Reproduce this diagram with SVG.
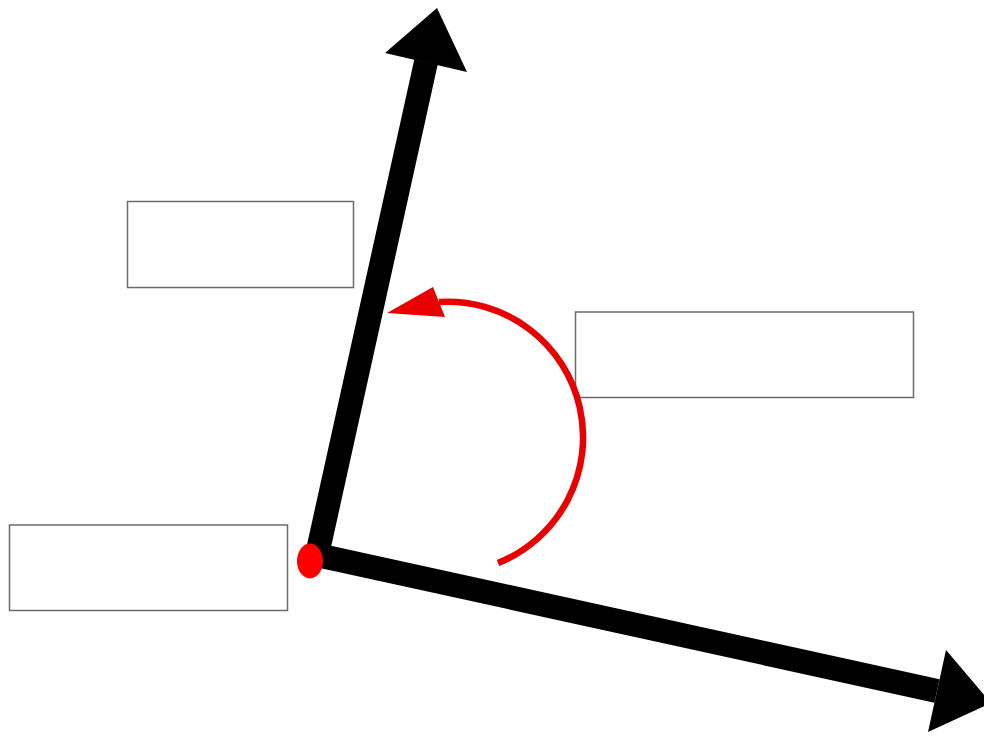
<svg xmlns="http://www.w3.org/2000/svg" width="984" height="737" viewBox="0 0 984 737">
<style>
.box{fill:#fff;stroke:#6b6b6b;stroke-width:1.5}
.axis{fill:none;stroke:#000;stroke-width:24;stroke-linejoin:miter}
.head{fill:#000}
.rot{fill:none;stroke:#e80000;stroke-width:6.5}
</style>
<rect width="984" height="737" fill="#fff"/>
<g id="box1"><rect class="box" x="127.5" y="201.5" width="226" height="86"/></g>
<g id="box2"><rect class="box" x="575.5" y="312" width="338" height="85.5"/></g>
<g id="box3"><rect class="box" x="9.5" y="525" width="278" height="85.5"/></g>
<g id="connectors">
<path class="axis" d="M426,62 L317,555 L937,691"/>
<polygon class="head" points="437,8 385,53 467,72"/>
<polygon class="head" points="991,703 946,650 928,732"/>
<path class="rot" d="M498,563 A135.5,135.5 0 0 0 439,302"/>
<polygon points="387,313 433,287 445,317" fill="#e80000"/>
</g>
<g id="origin"><ellipse cx="310" cy="561" rx="13" ry="17.5" fill="#f00"/></g>
</svg>
